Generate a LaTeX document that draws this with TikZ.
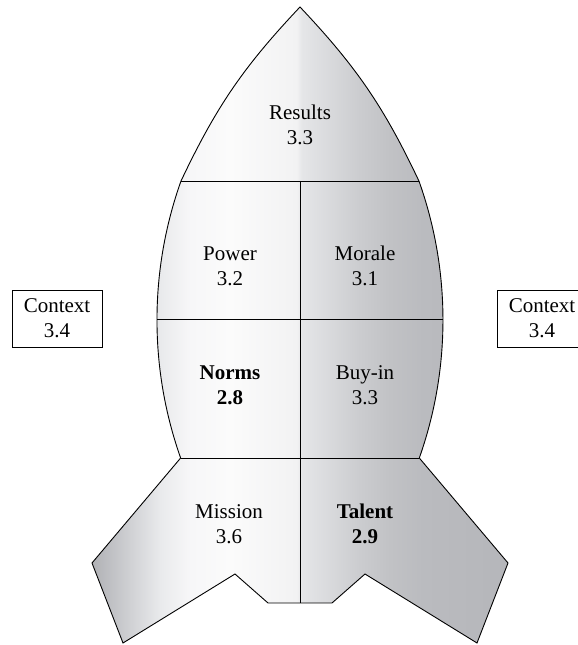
\documentclass[tikz,border=0pt]{standalone}
\usepackage{fontspec}
\setmainfont{Liberation Serif}

\definecolor{finedge}{RGB}{176,177,181}
\definecolor{finmid}{RGB}{208,209,212}
\definecolor{bodyedge}{RGB}{233,234,236}
\definecolor{bright}{RGB}{247,247,248}
\definecolor{peak}{RGB}{251,251,251}
\definecolor{nearseam}{RGB}{242,242,243}
\definecolor{seam}{RGB}{229,230,232}
\definecolor{halfshade}{RGB}{204,205,208}
\definecolor{shadow}{RGB}{193,194,197}
\definecolor{deepshadow}{RGB}{186,187,191}
\definecolor{farside}{RGB}{181,182,186}
% metal look: bright band on the left, darker right half
\pgfdeclarehorizontalshading{hullshade}{100bp}{color(0bp)=(finedge); color(25bp)=(finedge);
  color(29.6bp)=(finmid); color(33.2bp)=(bodyedge); color(36.8bp)=(bright);
  color(41.6bp)=(peak); color(49.6bp)=(nearseam); color(50.2bp)=(seam);
  color(56.9bp)=(halfshade); color(60.8bp)=(shadow); color(64.8bp)=(deepshadow);
  color(75bp)=(farside); color(100bp)=(farside)}

\begin{document}
\begin{tikzpicture}[x=1pt, y=1pt]

\def\radius{414}
\tikzset{label/.style={align=center, font=\fontsize{21}{25}\selectfont}}

\useasboundingbox (0, 0) rectangle (578, 645);

\coordinate (tip) at (300, 638);
\coordinate (noseleft) at (181, 464);
\coordinate (noseright) at (419, 464);
\coordinate (finleft) at (180.7, 187);
\coordinate (finright) at (419.3, 187);
\coordinate (center) at (300, 42);

% hull: nose, body arcs and fins
\draw[line width=0.9pt, shading=hullshade]
  (tip) to[bend right=9] (noseleft)
  arc[start angle=160.38, end angle=199.47, radius=\radius]
  -- (92, 82) -- (123, 2) -- (235, 71) -- (268, 42)
  -- (332, 42) -- (365, 71) -- (477, 2) -- (508, 82)
  -- (finright) arc[start angle=-19.47, end angle=19.62, radius=\radius]
  to[bend right=9] (tip) -- cycle;

% rings and middle seam
\draw[line width=0.8pt] (noseleft) -- (noseright);
\draw[line width=0.8pt] (157, 326) -- (443, 326);
\draw[line width=0.8pt] (finleft) -- (finright);
\draw[line width=0.6pt] (300, 464) -- (center);

\node[label] (results) at (300, 520) {Results\\3.3};
\node[label] (power) at (230, 379) {Power\\3.2};
\node[label] (morale) at (365, 379) {Morale\\3.1};
\node[label] (norms) at (230, 260) {\textbf{Norms}\\\textbf{2.8}};
\node[label] (buyin) at (365, 260) {Buy-in\\3.3};
\node[label] (mission) at (229, 121) {Mission\\3.6};
\node[label] (talent) at (365, 121) {\textbf{Talent}\\\textbf{2.9}};

\node[label, draw, line width=0.8pt, minimum width=90, minimum height=57, inner sep=0pt] (leftcontext) at (57, 326.5) {Context\\3.4};
\node[label, draw, line width=0.8pt, minimum width=90, minimum height=57, inner sep=0pt] (rightcontext) at (542, 326.5) {Context\\3.4};

\end{tikzpicture}
\end{document}
